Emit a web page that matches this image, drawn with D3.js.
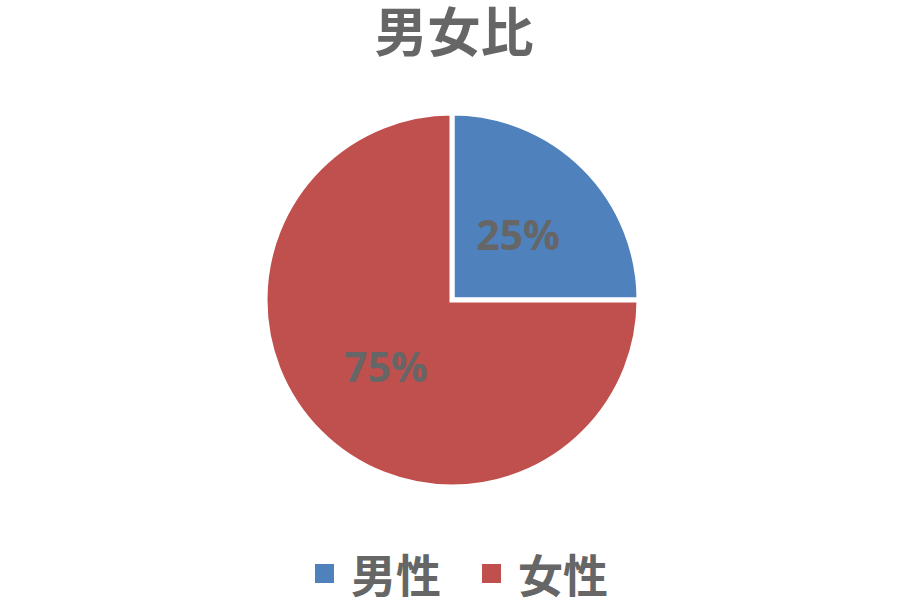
<!DOCTYPE html>
<html><head><meta charset="utf-8">
<script src="https://cdn.jsdelivr.net/npm/d3@7"></script>
<style>body{margin:0;background:#fff}</style>
</head><body>
<svg id="chart" width="900" height="600"></svg>
<script>
const title = "男女比";
const categories = ["男性", "女性"];
const values = [25, 75];
const colors = ["#4F81BD", "#C0504D"];

const svg = d3.select("#chart");
const cx = 452, cy = 300, r = 187;
const textColor = "#666666";
const cjk = "'Noto Sans CJK JP','Noto Sans CJK SC',sans-serif";

svg.append("text").attr("x", 454).attr("y", 29)
  .attr("text-anchor", "middle").attr("dominant-baseline", "central")
  .attr("font-family", cjk).attr("font-weight", "bold").attr("font-size", 53)
  .attr("fill", textColor).text(title);

const pie = d3.pie().sort(null).value(d => d)(values);
const arc = d3.arc().innerRadius(0).outerRadius(r);
const g = svg.append("g").attr("transform", `translate(${cx},${cy})`);
g.selectAll("path").data(pie).join("path")
  .attr("d", arc).attr("fill", (d, i) => colors[i])
  .attr("stroke", "#fff").attr("stroke-width", 5).attr("stroke-linejoin", "miter");

const total = d3.sum(values);
const labelArc = d3.arc().innerRadius(r * 0.5).outerRadius(r * 0.5);
g.selectAll("text.lbl").data(pie).join("text").attr("class", "lbl")
  .attr("transform", d => { const c = labelArc.centroid(d); return `translate(${c[0]},${c[1]})`; })
  .attr("text-anchor", "middle").attr("dominant-baseline", "central")
  .attr("font-family", "'Open Sans',sans-serif").attr("font-weight", "bold").attr("font-size", 41)
  .attr("fill", textColor)
  .text(d => Math.round(d.data / total * 100) + "%");

const legendX = [315, 482];
const leg = svg.append("g");
categories.forEach((c, i) => {
  leg.append("rect").attr("x", legendX[i]).attr("y", 564).attr("width", 19).attr("height", 19)
    .attr("fill", colors[i]);
  leg.append("text").attr("x", legendX[i] + 36).attr("y", 573)
    .attr("dominant-baseline", "central")
    .attr("font-family", cjk).attr("font-weight", "bold").attr("font-size", 45)
    .attr("fill", textColor).text(c);
});
</script>
</body></html>
